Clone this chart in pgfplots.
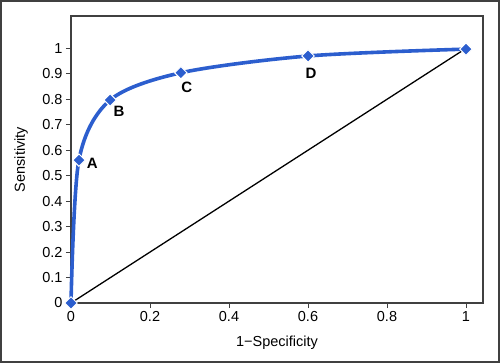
\documentclass[border=0pt]{standalone}
\usepackage{pgfplots}
\pgfplotsset{compat=1.18}
\usepackage{fontspec}
\setmainfont{Liberation Sans}
\definecolor{rocblue}{RGB}{44,94,206}
\definecolor{framegray}{RGB}{64,64,64}
\begin{document}
\begin{tikzpicture}
\useasboundingbox (0,0) rectangle (500bp,363bp);
\begin{axis}[
  at={(71bp,60bp)}, anchor=south west,
  scale only axis, width=412bp, height=287bp,
  xmin=0, xmax=1.043, ymin=0, ymax=1.127,
  xtick={0,0.2,0.4,0.6,0.8,1},
  ytick={0,0.1,0.2,0.3,0.4,0.5,0.6,0.7,0.8,0.9,1},
  axis line style={framegray, line width=1.2bp},
  tick style={framegray, line width=0.9bp},
  major tick length=5bp, tick align=outside,
  xtick pos=bottom, ytick pos=left,
  /pgf/number format/assume math mode=true,
  ticklabel style={font=\fontsize{14.5bp}{17bp}\selectfont, text=black},
  xlabel={1−Specificity}, ylabel={Sensitivity},
  every axis x label/.style={at={(axis description cs:0.5,-0.139)}, anchor=center, font=\fontsize{14.5bp}{17bp}\selectfont},
  every axis y label/.style={at={(axis description cs:-0.121,0.5)}, anchor=center, rotate=90, font=\fontsize{14.5bp}{17bp}\selectfont},
  clip=false,
]
\addplot[black, line width=1.3bp] coordinates {(0,0) (1,1)};
\addplot[rocblue, line width=3.6bp, smooth, tension=0.5,
  mark=square*, mark size=4.4bp,
  mark options={rotate=45, fill=rocblue, draw=white, line width=1bp}]
  coordinates {(0,0) (0.02,0.561) (0.099,0.797) (0.278,0.904) (0.60,0.97) (1.0,0.997)};
\node[font=\fontsize{15bp}{17bp}\selectfont\bfseries] at (axis cs:0.02,0.561) [xshift=13.5bp, yshift=-3bp] {A};
\node[font=\fontsize{15bp}{17bp}\selectfont\bfseries] at (axis cs:0.099,0.797) [xshift=9bp, yshift=-11.5bp] {B};
\node[font=\fontsize{15bp}{17bp}\selectfont\bfseries] at (axis cs:0.278,0.904) [xshift=6bp, yshift=-15bp] {C};
\node[font=\fontsize{15bp}{17bp}\selectfont\bfseries] at (axis cs:0.60,0.97) [xshift=3bp, yshift=-17.5bp] {D};
\end{axis}
\draw[framegray, line width=1.6bp] (0.8bp,0.8bp) rectangle (499.2bp,362.2bp);
\end{tikzpicture}
\end{document}
